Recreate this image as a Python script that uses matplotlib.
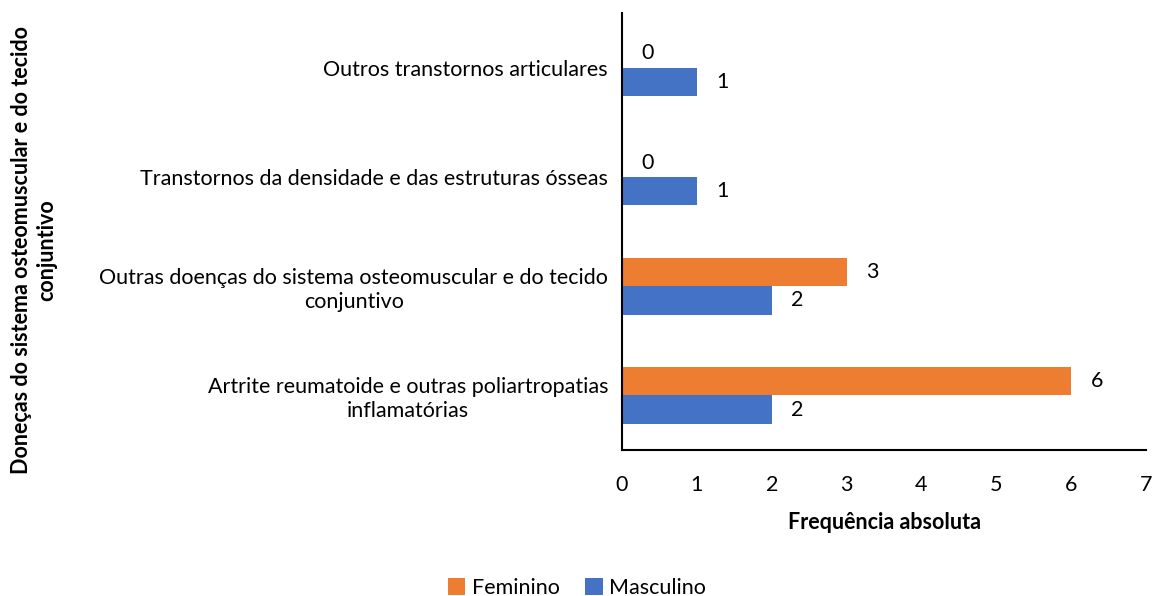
import matplotlib
matplotlib.use("Agg")
import matplotlib.pyplot as plt
import numpy as np

categories = [
    "Artrite reumatoide e outras poliartropatias\ninflamatórias",
    "Outras doenças do sistema osteomuscular e do tecido\nconjuntivo",
    "Transtornos da densidade e das estruturas ósseas",
    "Outros transtornos articulares",
]
feminino = [6, 3, 0, 0]
masculino = [2, 2, 1, 1]

plt.rcParams["font.family"] = ["Lato", "DejaVu Sans"]
FS = 15.5

fig = plt.figure(figsize=(11.54, 5.96), dpi=100)
ax = fig.add_axes([622 / 1154, 1 - 450 / 596, (1146 - 622) / 1154, (450 - 13) / 596])

y = np.arange(len(categories))
h = 0.26
bars_f = ax.barh(y + h / 2, feminino, height=h, color="#ED7D31", label="Feminino")
bars_m = ax.barh(y - h / 2, masculino, height=h, color="#4472C4", label="Masculino")

for bars in (bars_f, bars_m):
    for b in bars:
        w = b.get_width()
        ax.annotate(f"{w:g}", (w, b.get_y() + b.get_height() / 2),
                    xytext=(14, 0), textcoords="offset points",
                    ha="left", va="center", fontsize=FS)

ax.set_xlim(0, 7)
ax.set_ylim(-0.5, 3.5)
ax.set_xticks(range(8))
ax.set_yticks(y)
ax.set_yticklabels(categories, ha="right", multialignment="center", fontsize=FS,
                   linespacing=1.25)
ax.tick_params(axis="y", length=0, pad=10)
ax.tick_params(axis="x", length=0, pad=18, labelsize=FS)
for s in ("top", "right"):
    ax.spines[s].set_visible(False)
ax.spines["left"].set_linewidth(1.5)
ax.spines["bottom"].set_linewidth(1.5)

ax.set_xlabel("Frequência absoluta", fontsize=FS, fontweight="bold", labelpad=12)
fig.text(0.030, 0.58, "Doneças do sistema osteomuscular e do tecido\nconjuntivo",
         rotation=90, ha="center", va="center", fontsize=FS, fontweight="bold",
         multialignment="center", linespacing=1.25)

handles, labels = ax.get_legend_handles_labels()
fig.legend(handles, labels, loc="center", bbox_to_anchor=(0.5, 1 - 588 / 596),
           ncol=2, frameon=False, fontsize=FS, handlelength=0.8, handleheight=0.8,
           handletextpad=0.3, columnspacing=1.2)

fig.savefig("out.png", dpi=100)
